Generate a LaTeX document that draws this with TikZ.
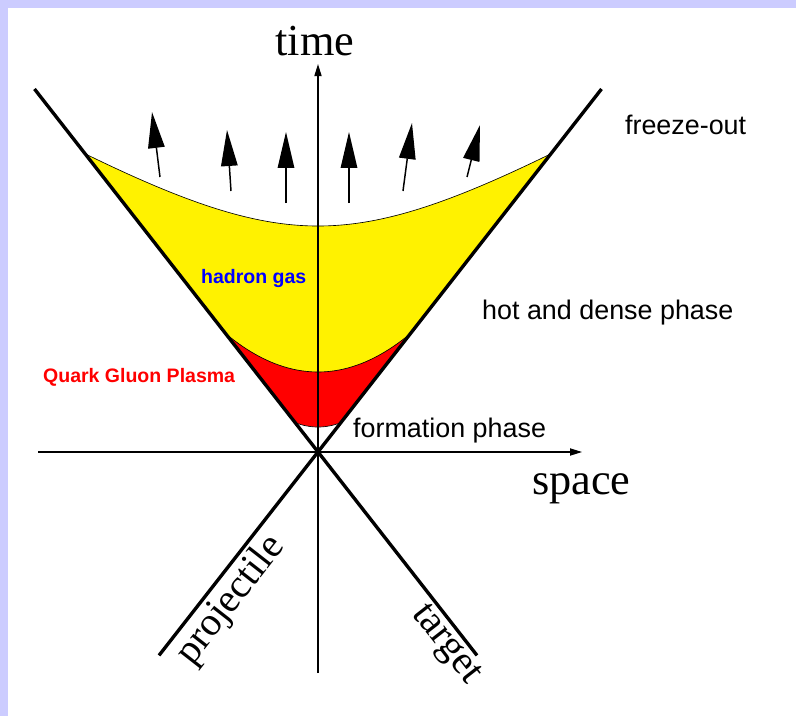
\documentclass[tikz,border=0pt]{standalone}
\usepackage{fontspec}
\setmainfont{Liberation Serif}
\setsansfont{Liberation Sans}
\usetikzlibrary{arrows.meta}
\definecolor{lavender}{RGB}{204,204,255}

\begin{document}
\begin{tikzpicture}[
    cone/.style={line width=3.2pt},
    axis/.style={line width=1.1pt, -{Triangle[length=4mm,width=2.4mm]}},
    flow/.style={line width=1.4pt, -{Triangle[length=12mm,width=5.5mm]}},
    rim/.style={line width=0.6pt},
    bigserif/.style={font=\fontsize{42}{42}\selectfont, inner sep=0pt},
    beamfont/.style={font=\fontsize{38}{38}\selectfont, inner sep=0pt},
    phase/.style={font=\sffamily\fontsize{25.5}{25.5}\selectfont, inner sep=0pt},
    matter/.style={font=\sffamily\bfseries\fontsize{18.5}{18.5}\selectfont, inner sep=0pt}
  ]
  % Frame
  \fill[lavender] (-10.6,-8.8) rectangle (15.933,15.067);
  \fill[white] (-10.333,-8.8) rectangle (15.933,14.8);
  \useasboundingbox (-10.6,-8.8) rectangle (15.933,15.067);

  \coordinate (O) at (0,0);

  % Phases inside the forward light cone
  \begin{scope}
    \clip (O) -- (-10,12.8) -- (10,12.8) -- cycle;
    \fill[yellow] plot[domain=-9:9, samples=80] (\x,{7.533+0.6*(sqrt(30.25+\x*\x)-5.5)}) -- (9,0) -- (-9,0) -- cycle;
    \fill[red] plot[domain=-4.5:4.5, samples=60] (\x,{2.667+0.135*\x*\x}) -- (4.5,0) -- (-4.5,0) -- cycle;
    \fill[white] plot[domain=-1.5:1.5, samples=40] (\x,{0.833+0.25*\x*\x}) -- (1.5,0) -- (-1.5,0) -- cycle;
    \draw[rim] plot[domain=-9:9, samples=80] (\x,{7.533+0.6*(sqrt(30.25+\x*\x)-5.5)});
    \draw[rim] plot[domain=-4.5:4.5, samples=60] (\x,{2.667+0.135*\x*\x});
    \draw[rim] plot[domain=-1.5:1.5, samples=40] (\x,{0.833+0.25*\x*\x});
  \end{scope}

  % Axes
  \coordinate (tbot) at (0,-7.37);
  \coordinate (ttop) at (0,12.93);
  \coordinate (sleft) at (-9.33,0);
  \coordinate (sright) at (8.8,0);
  \draw[axis] (tbot) -- (ttop);
  \draw[axis] (sleft) -- (sright);

  % Light cone
  \coordinate (ul) at (-9.45,12.1);
  \coordinate (ur) at (9.45,12.1);
  \coordinate (ll) at (-5.3,-6.78);
  \coordinate (lr) at (5.3,-6.78);
  \draw[cone] (ul) -- (lr);
  \draw[cone] (ur) -- (ll);

  % Outward flow at freeze-out
  \foreach \xa/\ya/\xb/\yb in {-5.267/9.167/-5.533/11.333, -2.9/8.7/-3.033/10.733,
      -1.067/8.3/-1.067/10.667, 1.033/8.3/1.033/10.667,
      2.833/8.7/3.133/10.967, 4.967/9.167/5.4/10.9}
    \draw[flow] (\xa,\ya) -- (\xb,\yb);

  % Labels
  \node[bigserif, anchor=base] (time) at (-0.1,13.23) {time};
  \node[bigserif, anchor=base west] (space) at (7.13,-1.433) {space};
  \node[phase, anchor=base west] (freeze) at (10.23,10.57) {freeze-out};
  \node[phase, anchor=base west] (hot) at (5.467,4.433) {hot and dense phase};
  \node[phase, anchor=base west] (formation) at (1.167,0.467) {formation phase};
  \node[matter, blue, anchor=base west] (hadron) at (-3.9,5.633) {hadron gas};
  \node[matter, red, anchor=base west] (qgp) at (-9.167,2.333) {Quark Gluon Plasma};
  \node[beamfont, rotate=52] (proj) at (-2.9,-4.95) {projectile};
  \node[beamfont, rotate=-52] (targ) at (4.23,-6.45) {target};
\end{tikzpicture}
\end{document}
